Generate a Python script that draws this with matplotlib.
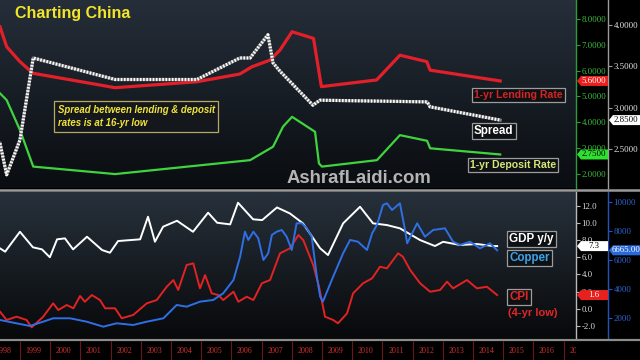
import numpy as np
import matplotlib.pyplot as plt
from matplotlib.patches import Polygon
from matplotlib.ticker import FormatStrFormatter

plt.rcParams['font.family'] = ['Liberation Sans', 'DejaVu Sans']

# ---- top panel: 1-yr lending / deposit rates (%) and spread ----
lend_t = [1998.34, 1998.56, 1999.0, 1999.43, 2002.15, 2004.86, 2006.28, 2006.68, 2007.28,
          2007.61, 2008.01, 2008.72, 2008.98, 2010.81, 2011.58, 2012.47, 2012.58, 2014.90]
lending = [7.70, 6.93, 6.35, 5.90, 5.34, 5.57, 5.87, 6.15, 6.41,
           6.80, 7.51, 7.25, 5.38, 5.64, 6.60, 6.35, 6.02, 5.60]

dep_t = [1998.34, 1998.56, 1999.0, 1999.44, 2002.15, 2006.62, 2007.38, 2007.71, 2008.01,
         2008.77, 2008.90, 2009.0, 2010.82, 2011.58, 2012.48, 2012.58, 2014.90]
deposit = [5.12, 4.86, 3.70, 2.28, 1.99, 2.53, 3.05, 3.83, 4.21,
           3.63, 2.40, 2.28, 2.53, 3.50, 3.28, 2.99, 2.75]

spr_t = [1998.34, 1998.56, 1999.0, 1999.44, 2002.15, 2004.86, 2006.28, 2006.62, 2007.21,
         2007.38, 2007.61, 2008.70, 2008.93, 2012.48, 2012.58, 2014.90]
spread = [2.57, 2.19, 2.61, 3.60, 3.34, 3.34, 3.60, 3.60, 3.88,
          3.54, 3.44, 3.03, 3.09, 3.07, 3.01, 2.85]

# ---- bottom panel: GDP y/y, CPI y/y (%), copper (USD/t) ----
gdp_t = [1998.34, 1998.51, 1999.0, 1999.43, 1999.73, 1999.99, 2000.23, 2000.49, 2000.76, 2001.22,
         2001.72, 2001.98, 2002.25, 2002.98, 2003.24, 2003.47, 2003.74, 2004.20, 2004.73, 2005.23,
         2005.53, 2005.96, 2006.22, 2006.72, 2007.02, 2007.51, 2007.94, 2008.37, 2008.94, 2009.20,
         2009.70, 2010.26, 2010.69, 2011.15, 2011.58, 2012.25, 2012.74, 2013.01, 2013.57, 2014.13,
         2014.66, 2014.80]
gdp = [7.04, 6.65, 8.97, 7.16, 6.92, 6.00, 8.09, 8.20, 6.92, 8.39,
       6.84, 6.53, 7.89, 8.09, 10.72, 7.81, 9.56, 10.25, 8.97, 11.19,
       10.02, 9.83, 12.35, 10.42, 10.33, 11.80, 11.10, 9.95, 7.04, 6.26,
       9.95, 11.88, 9.95, 9.75, 9.37, 8.00, 7.31, 7.80, 7.43, 7.54,
       7.31, 7.30]

cpi_t = [1998.34, 1998.56, 1998.89, 1999.22, 1999.39, 1999.77, 2000.10, 2000.27, 2000.55, 2000.77,
         2000.99, 2001.15, 2001.38, 2001.65, 2001.82, 2002.15, 2002.37, 2002.75, 2003.20, 2003.53,
         2003.86, 2004.08, 2004.24, 2004.52, 2004.74, 2004.96, 2005.13, 2005.35, 2005.57, 2005.73,
         2006.07, 2006.23, 2006.51, 2006.73, 2007.01, 2007.28, 2007.61, 2007.94, 2008.22, 2008.38,
         2008.71, 2008.90, 2009.10, 2009.37, 2009.53, 2009.83, 2010.03, 2010.36, 2010.66, 2010.92,
         2011.15, 2011.52, 2011.68, 2011.92, 2012.25, 2012.58, 2012.91, 2013.14, 2013.34, 2013.80,
         2014.13, 2014.46, 2014.80]
cpi = [-0.34, -1.30, -0.92, -1.30, -2.16, -0.92, 0.64, -0.14, 0.44, 0.06,
       1.49, 0.82, 1.60, 1.02, 0.06, 0.06, -1.10, -0.72, 0.64, 1.02,
       2.57, 3.35, 2.19, 5.10, 5.29, 2.38, 3.93, 1.80, 1.60, 1.02,
       1.99, 0.82, 1.41, 1.02, 2.97, 3.35, 6.46, 7.04, 8.59, 8.00,
       5.10, 2.60, -0.92, -1.30, -1.69, -0.53, 1.80, 2.97, 3.55, 4.90,
       4.71, 6.46, 6.06, 4.52, 2.97, 1.99, 2.19, 3.16, 2.38, 3.35,
       2.38, 2.57, 1.60]

cu_t = [1998.34, 1998.78, 1999.33, 1999.77, 2000.10, 2000.66, 2001.21, 2001.76, 2002.20, 2002.75,
        2003.20, 2003.75, 2004.19, 2004.52, 2004.96, 2005.40, 2005.73, 2006.07, 2006.29, 2006.45,
        2006.56, 2006.73, 2006.89, 2007.06, 2007.22, 2007.34, 2007.50, 2007.67, 2007.83, 2008.00,
        2008.16, 2008.33, 2008.50, 2008.66, 2008.83, 2008.94, 2009.03, 2009.37, 2009.70, 2009.93,
        2010.19, 2010.49, 2010.66, 2010.82, 2011.02, 2011.15, 2011.32, 2011.58, 2011.75, 2011.82,
        2012.15, 2012.41, 2012.68, 2013.07, 2013.34, 2013.57, 2013.90, 2014.23, 2014.56, 2014.80]
copper = [1884, 1700, 1473, 1768, 2000, 2000, 1768, 1425, 1658, 1541,
          1768, 2000, 2913, 2797, 3140, 3257, 3716, 4629, 6227, 7942,
          7373, 7942, 7489, 6000, 6460, 7716, 7942, 8058, 7600, 6687,
          8518, 8518, 8175, 7600, 4855, 3483, 3140, 4855, 6460, 7373,
          7256, 6687, 7830, 8400, 9774, 9890, 9430, 9890, 8058, 7146,
          8518, 7600, 8058, 8175, 7256, 7030, 7256, 6800, 7146, 6665]

years = list(range(1998, 2018))

X0, X1 = 1998.34, 2017.41
W, H = 640, 360

fig = plt.figure(figsize=(6.4, 3.6), dpi=100, facecolor='black')
ax1 = fig.add_axes([0, 172 / H, 576 / W, 188 / H])
ax2 = fig.add_axes([0, 22 / H, 576 / W, 146 / H])
ax3 = fig.add_axes([0, 0, 576 / W, 19 / H])
ax1b = ax1.twinx()
ax2b = ax2.twinx()


def gradient(ax, top, bottom):
    c1 = np.array(plt.matplotlib.colors.to_rgb(top))
    c2 = np.array(plt.matplotlib.colors.to_rgb(bottom))
    f = np.linspace(0, 1, 100)[:, None]
    img = (c1 * (1 - f) + c2 * f)[:, None, :]
    ax.set_autoscale_on(False)
    ax.imshow(img, extent=[0, 1, 0, 1], transform=ax.transAxes, aspect='auto', zorder=0)


def style_axis(ax, spine_color, label_color, spine_pos=None):
    for s in ['top', 'left', 'bottom']:
        ax.spines[s].set_visible(False)
    ax.spines['right'].set_visible(True)
    ax.spines['right'].set_color(spine_color)
    ax.spines['right'].set_linewidth(1.0)
    if spine_pos is not None:
        ax.spines['right'].set_position(('axes', spine_pos))
    ax.yaxis.tick_right()
    ax.tick_params(axis='y', which='both', left=False, labelleft=False, right=True,
                   labelright=True, labelcolor=label_color, color=spine_color,
                   labelsize=6.3, length=3, width=0.8, pad=1)
    ax.set_xticks([])
    for lbl in ax.get_yticklabels():
        lbl.set_family('Liberation Serif')


# ---- top panel ----
gradient(ax1, '#252e39', '#0a0d11')
ax1.plot(lend_t, lending, color='#e3202a', lw=2.3, zorder=3)
ax1.plot(dep_t, deposit, color='#3fd43f', lw=1.6, zorder=3)
ax1.set_xlim(X0, X1)
ax1.set_ylim(1.45, 8.74)
ax1.set_yticks(range(2, 9))
ax1.yaxis.set_major_formatter(FormatStrFormatter('%.4f'))
style_axis(ax1, '#2f9a3a', '#3cbf3c')

ax1b.plot(spr_t, spread, color='#777777', lw=2.3, zorder=3)
ax1b.plot(spr_t, spread, color='white', lw=2.3, ls=(0, (0.5, 0.5)), zorder=4)
ax1b.set_xlim(X0, X1)
ax1b.set_ylim(2.03, 4.30)
ax1b.set_yticks([2.5, 3.0, 3.5, 4.0])
ax1b.yaxis.set_major_formatter(FormatStrFormatter('%.4f'))
style_axis(ax1b, '#9a9a9a', '#e8e8e8', 608 / 576)

ax1.text(0.026, 0.93, 'Charting China', transform=ax1.transAxes, color='#f3e52a',
         fontsize=11.5, fontweight='bold', va='center', ha='left', zorder=5)
ax1b.text(0.10, 0.38, 'Spread between lending & deposit\nrates is at 16-yr low',
          transform=ax1.transAxes, color='#f2e43a', fontsize=6.9, fontweight='bold',
          fontstyle='italic', va='center', ha='left', linespacing=1.45, zorder=5,
          bbox=dict(boxstyle='square,pad=0.35', fc='#14181d', ec='#b8a860', lw=0.9))
ax1.text(0.498, 0.053, 'AshrafLaidi.com', transform=ax1.transAxes, color='#b4b4b4',
         fontsize=13.3, fontweight='bold', va='center', ha='left', zorder=2)

box = dict(boxstyle='square,pad=0.18', fc='#0e1114', ec='#9c9c9c', lw=0.9)
ax1b.text(0.823, 0.495, '1-yr Lending Rate', transform=ax1.transAxes, color='#d42424',
          fontsize=7.6, fontweight='bold', va='center', ha='left', zorder=5, bbox=box)
ax1b.text(0.823, 0.305, 'Spread', transform=ax1.transAxes, color='white',
          fontsize=8.4, fontweight='bold', va='center', ha='left', zorder=5, bbox=box)
ax1b.text(0.816, 0.122, '1-yr Deposit Rate', transform=ax1.transAxes, color='#d6e67a',
          fontsize=7.6, fontweight='bold', va='center', ha='left', zorder=5, bbox=box)

# ---- bottom panel ----
gradient(ax2, '#27313b', '#08090b')
ax2.plot(gdp_t, gdp, color='white', lw=1.4, zorder=3)
ax2.plot(cpi_t, cpi, color='#e32222', lw=1.4, zorder=3)
ax2.set_xlim(X0, X1)
ax2.set_ylim(-3.4, 13.6)
ax2.set_yticks(range(-2, 13, 2))
ax2.yaxis.set_major_formatter(FormatStrFormatter('%.1f'))
style_axis(ax2, '#b8b8b8', '#dcdcdc')

ax2b.plot(cu_t, copper, color='#2f6fe6', lw=1.4, zorder=3)
ax2b.set_xlim(X0, X1)
ax2b.set_ylim(648, 10665)
ax2b.set_yticks(range(2000, 10001, 2000))
ax2b.yaxis.set_major_formatter(FormatStrFormatter('%d'))
style_axis(ax2b, '#2452b8', '#2f66d0', 608 / 576)

ax2b.text(0.884, 0.678, 'GDP y/y', transform=ax2.transAxes, color='white',
          fontsize=8.4, fontweight='bold', va='center', ha='left', zorder=5, bbox=box)
ax2b.text(0.884, 0.548, 'Copper', transform=ax2.transAxes, color='#3aa2e6',
          fontsize=8.4, fontweight='bold', va='center', ha='left', zorder=5, bbox=box)
ax2b.text(0.884, 0.281, 'CPI', transform=ax2.transAxes, color='#e02626',
          fontsize=8.4, fontweight='bold', va='center', ha='left', zorder=5, bbox=box)
ax2b.text(0.882, 0.171, '(4-yr low)', transform=ax2.transAxes, color='#e02626',
          fontsize=8.0, fontweight='bold', va='center', ha='left', zorder=5)

# ---- year strip ----
ax3.set_facecolor('black')
ax3.set_xlim(X0, X1)
ax3.set_ylim(0, 1)
ax3.vlines(years[1:], 0, 1, color='#6e1616', lw=0.8)
for yr in years:
    ax3.text(yr + 0.45, 0.45, str(yr), color='#d03030', fontsize=5.8,
             family='Liberation Serif', ha='center', va='center', clip_on=True)
ax3.axis('off')

# separators between panels
fig.add_artist(plt.Line2D([0, 1], [170.5 / H, 170.5 / H], color='#9a9a9a', lw=1.8,
                          transform=fig.transFigure))
fig.add_artist(plt.Line2D([0, 1], [20.5 / H, 20.5 / H], color='#8c8c8c', lw=1.6,
                          transform=fig.transFigure))


# ---- last-value tags on the axes ----
def tag(ax, val, txt, x0, fc, tc):
    y = ax.transData.transform((X0, val))[1]
    pts = [(x0, y), (x0 + 4, y + 5), (x0 + 31, y + 5), (x0 + 31, y - 5), (x0 + 4, y - 5)]
    pts = [(px / W, py / H) for px, py in pts]
    fig.add_artist(Polygon(pts, closed=True, fc=fc, ec='none', transform=fig.transFigure,
                           zorder=10))
    fig.text((x0 + 17) / W, y / H, txt, color=tc, fontsize=6.3, family='Liberation Serif',
             ha='center', va='center', zorder=11)


tag(ax1, lending[-1], '%.4f' % lending[-1], 577, '#e8201e', 'white')
tag(ax1, deposit[-1], '%.4f' % deposit[-1], 577, '#30e030', 'black')
tag(ax1b, spread[-1], '%.4f' % spread[-1], 609, 'white', 'black')
tag(ax2, gdp[-1], '%.1f' % gdp[-1], 577, 'white', 'black')
tag(ax2, cpi[-1], '%.1f' % cpi[-1], 577, '#e8201e', 'white')
tag(ax2b, copper[-1], '%.2f' % copper[-1], 609, '#2a6ad8', 'white')

fig.savefig('out.png', dpi=100, facecolor='black')
